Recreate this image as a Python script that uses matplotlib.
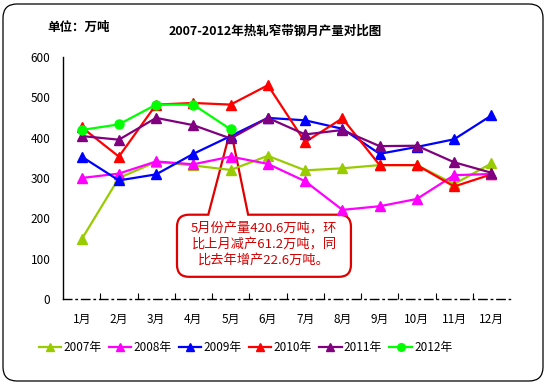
import numpy as np
import matplotlib
matplotlib.use('Agg')
import matplotlib.pyplot as plt
from matplotlib.path import Path
from matplotlib.patches import PathPatch, FancyBboxPatch
from matplotlib.transforms import IdentityTransform

plt.rcParams['font.family'] = ['Noto Sans CJK SC', 'DejaVu Sans']

months = ['1月', '2月', '3月', '4月', '5月', '6月', '7月', '8月', '9月', '10月', '11月', '12月']
y2007 = [148, 300, 340, 331, 320, 355, 319, 324, 332, 332, 285, 336]
y2008 = [300, 311, 341, 334, 353, 335, 292, 221, 230, 248, 307, 310]
y2009 = [353, 294, 309, 360, 404, 449, 443, 422, 360, 377, 396, 455]
y2010 = [426, 353, 482, 486, 482, 530, 389, 448, 332, 332, 279, 309]
y2011 = [404, 395, 449, 431, 398.0, 449, 408, 419, 379, 380, 339, 313]
y2012 = [419, 433, 482, 481.8, 420.6]

series = [
    ('2007年', y2007, '#99CC00', '^'),
    ('2008年', y2008, '#FF00FF', '^'),
    ('2009年', y2009, '#0000FF', '^'),
    ('2010年', y2010, '#FF0000', '^'),
    ('2011年', y2011, '#800080', '^'),
    ('2012年', y2012, '#00FF00', 'o'),
]

note = '5月份产量420.6万吨，环\n比上月减产61.2万吨，同\n比去年增产22.6万吨。'

fig = plt.figure(figsize=(5.46, 3.84), dpi=100)

# outer rounded frame
bg = fig.add_axes([0, 0, 1, 1])
bg.set_xlim(0, 546)
bg.set_ylim(0, 384)
bg.axis('off')
bg.add_patch(FancyBboxPatch((3, 3), 540, 377, boxstyle='round,pad=0,rounding_size=14',
                            fc='white', ec='black', lw=0.9))

ax = fig.add_axes([63 / 546, 1 - 299 / 384, 447 / 546, 242 / 384])
ax.patch.set_alpha(0)
x = np.arange(len(months))

for label, vals, color, mk in series:
    ms = 6.5 if mk == 'o' else 7.5
    ax.plot(x[:len(vals)], vals, color=color, marker=mk, markersize=ms, lw=1.6,
            label=label, zorder=3)

ax.set_xlim(-0.5, 11.5)
ax.set_ylim(0, 600)
ax.set_yticks(range(0, 601, 100))
ax.set_xticks(x)
ax.set_xticklabels(months)
ax.set_xticks(np.arange(0.5, 11.5, 1), minor=True)
ax.tick_params(axis='x', which='major', length=0, pad=10, labelsize=8.5)
ax.tick_params(axis='x', which='minor', direction='in', length=4, width=0.8)
ax.tick_params(axis='y', length=0, pad=9, labelsize=8.5)
for s in ['top', 'right']:
    ax.spines[s].set_visible(False)
ax.spines['left'].set_linewidth(1.0)
ax.spines['bottom'].set_linewidth(1.0)
ax.spines['bottom'].set_linestyle((0, (6, 3, 1, 3)))

# callout box with tail pointing at May 2012
fig.canvas.draw()
T = ax.transData
bx0, by0 = T.transform((2.56, 55))
bx1, by1 = T.transform((7.23, 209))
tl = T.transform((3.40, 209))[0]
tr = T.transform((4.47, 209))[0]
apx, apy = T.transform((4, 420.6))
r = 12
verts = [(tl, by1), (bx0 + r, by1), (bx0, by1), (bx0, by1 - r),
         (bx0, by0 + r), (bx0, by0), (bx0 + r, by0),
         (bx1 - r, by0), (bx1, by0), (bx1, by0 + r),
         (bx1, by1 - r), (bx1, by1), (bx1 - r, by1),
         (tr, by1), (apx, apy), (tl, by1)]
codes = [Path.MOVETO, Path.LINETO, Path.CURVE3, Path.CURVE3,
         Path.LINETO, Path.CURVE3, Path.CURVE3,
         Path.LINETO, Path.CURVE3, Path.CURVE3,
         Path.LINETO, Path.CURVE3, Path.CURVE3,
         Path.LINETO, Path.LINETO, Path.CLOSEPOLY]
ax.add_patch(PathPatch(Path(verts, codes), transform=IdentityTransform(),
                       fc='white', ec='#E00000', lw=1.6, zorder=2, clip_on=False))
ax.text(5 - 0.1, 135, note, color='#D00000', fontsize=9.5, ha='center', va='center',
        linespacing=1.25, zorder=4)

fig.text(79 / 546, 1 - 27 / 384, '单位：万吨', fontsize=9, fontweight='bold',
         ha='center', va='center')
fig.text(275 / 546, 1 - 31 / 384, '2007-2012年热轧窄带钢月产量对比图', fontsize=9,
         fontweight='bold', ha='center', va='center')

fig.legend(loc='center', bbox_to_anchor=(0.45, 1 - 348 / 384), ncol=6, frameon=False,
           fontsize=8.5, handlelength=1.9, handletextpad=0.2, columnspacing=0.6,
           markerscale=0.85, borderaxespad=0)

fig.savefig('out.png', dpi=100)
